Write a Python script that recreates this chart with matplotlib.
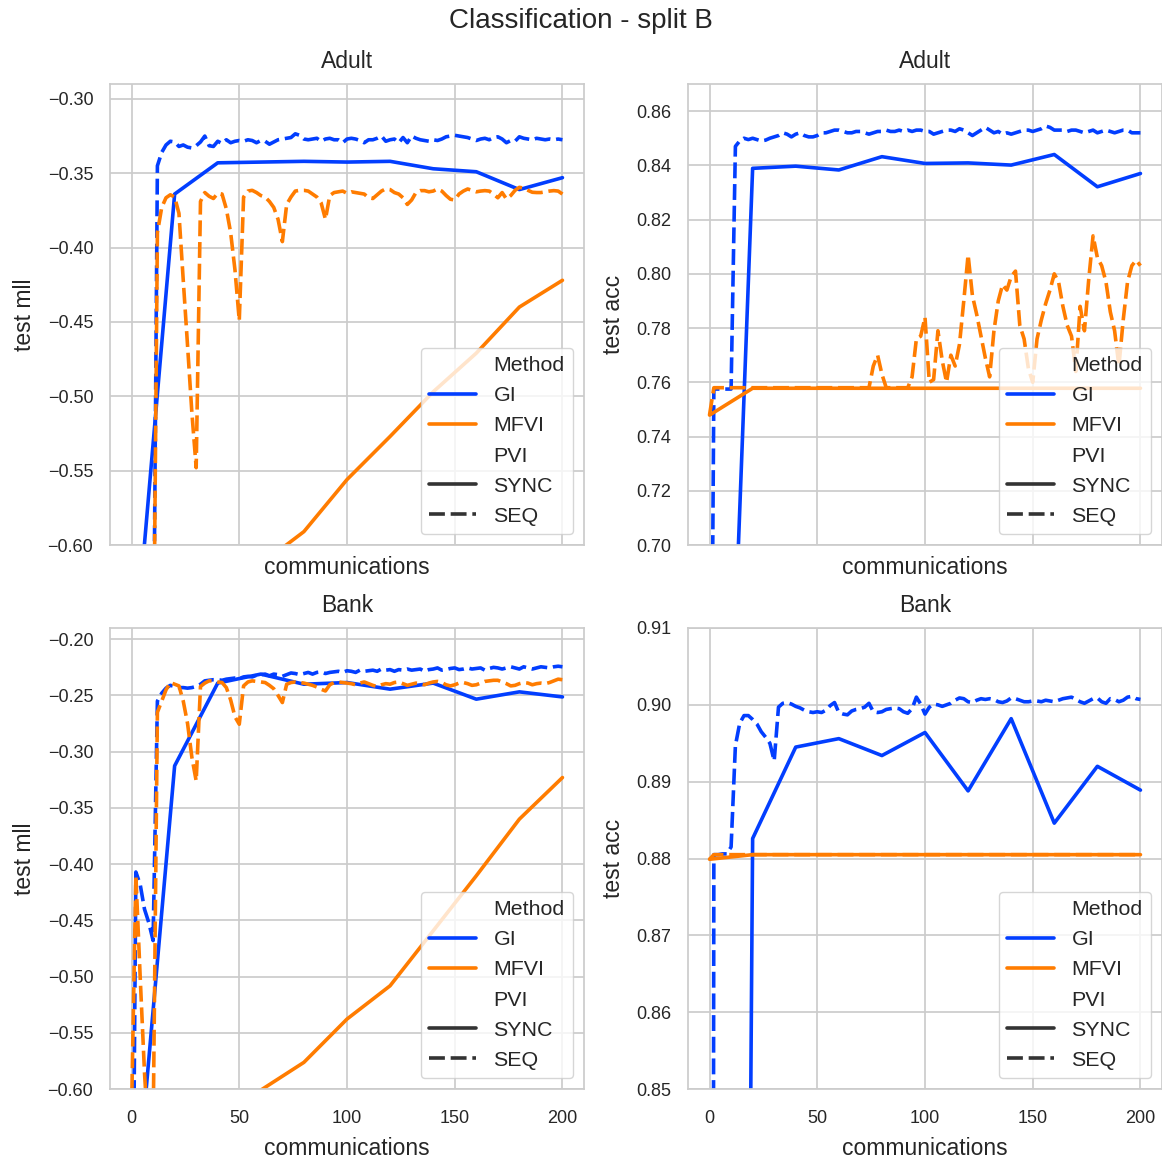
import numpy as np
import seaborn as sns
from matplotlib import pyplot as plt
from matplotlib.lines import Line2D
from matplotlib.ticker import FuncFormatter

sns.set_theme(style="whitegrid")
plt.rcParams['font.family'] = ['Liberation Sans', 'DejaVu Sans']

BLUE = '#023eff'
ORANGE = '#ff7c00'

# eje x: SYNC cada 20 comunicaciones, SEQ cada 2
x_sync = np.arange(0, 201, 20)
x_seq = np.arange(0, 201, 2)

# ---------------- Adult - test mll ----------------
adult_mll_gi_sync = [-0.700, -0.364, -0.343, -0.3425, -0.342, -0.3425, -0.342, -0.347, -0.349, -0.361, -0.353]
adult_mll_mfvi_sync = [-1.60, -1.00, -0.75, -0.613, -0.591, -0.556, -0.527, -0.497, -0.471, -0.440, -0.422]
adult_mll_gi_seq = [
    -0.80, -0.78, -0.76, -0.75, -0.74, -0.72, -0.345, -0.336, -0.331, -0.3285,
    -0.329, -0.332, -0.331, -0.3325, -0.333, -0.3315, -0.329, -0.325, -0.3315, -0.332,
    -0.3285, -0.330, -0.3275, -0.3295, -0.3285, -0.328, -0.3285, -0.3275, -0.328, -0.3295,
    -0.328, -0.3285, -0.3305, -0.329, -0.3275, -0.327, -0.3265, -0.326, -0.3235, -0.3245,
    -0.327, -0.3275, -0.327, -0.3265, -0.3285, -0.327, -0.3265, -0.3275, -0.3275, -0.3295,
    -0.327, -0.3265, -0.327, -0.328, -0.3295, -0.3275, -0.3275, -0.3265, -0.325, -0.3285,
    -0.3275, -0.327, -0.3295, -0.326, -0.3295, -0.325, -0.3265, -0.3275, -0.328, -0.3285,
    -0.3275, -0.328, -0.327, -0.3255, -0.325, -0.3245, -0.325, -0.3255, -0.326, -0.327,
    -0.328, -0.327, -0.3265, -0.3275, -0.326, -0.3255, -0.327, -0.3295, -0.328, -0.3285,
    -0.3255, -0.3265, -0.327, -0.3275, -0.3265, -0.327, -0.3275, -0.327, -0.3275, -0.327,
    -0.3275]
adult_mll_mfvi_seq = [
    -0.85, -0.80, -0.78, -0.76, -0.74, -0.72, -0.390, -0.373, -0.3665, -0.3645,
    -0.366, -0.377, -0.422, -0.466, -0.511, -0.548, -0.369, -0.363, -0.3655, -0.367,
    -0.3635, -0.364, -0.374, -0.390, -0.415, -0.449, -0.366, -0.362, -0.3615, -0.363,
    -0.365, -0.366, -0.369, -0.373, -0.381, -0.396, -0.371, -0.366, -0.362, -0.3615,
    -0.3615, -0.362, -0.364, -0.366, -0.370, -0.381, -0.365, -0.363, -0.3625, -0.362,
    -0.3635, -0.3625, -0.363, -0.3635, -0.364, -0.3665, -0.367, -0.3645, -0.362, -0.3605,
    -0.361, -0.363, -0.364, -0.3665, -0.371, -0.368, -0.363, -0.3617, -0.3617, -0.3625,
    -0.362, -0.3606, -0.362, -0.365, -0.3675, -0.368, -0.364, -0.362, -0.3606, -0.3615,
    -0.3625, -0.362, -0.3617, -0.362, -0.364, -0.3665, -0.363, -0.3673, -0.365, -0.3615,
    -0.3595, -0.360, -0.3615, -0.3628, -0.363, -0.363, -0.3625, -0.362, -0.3617, -0.362,
    -0.364]

# ---------------- Adult - test acc ----------------
adult_acc_gi_sync = [0.418, 0.8389, 0.8397, 0.8383, 0.8432, 0.8407, 0.8409, 0.8401, 0.8440, 0.8321, 0.8370]
adult_acc_mfvi_sync = [0.7479, 0.7578, 0.7578, 0.7578, 0.7578, 0.7578, 0.7578, 0.7578, 0.7578, 0.7578, 0.7578]
adult_acc_gi_seq = [0.53] + [0.7575] * 5 + [
    0.847, 0.849, 0.850, 0.8495, 0.850, 0.8495, 0.849, 0.8493, 0.850, 0.8505,
    0.851, 0.852, 0.8515, 0.8505, 0.8515, 0.852, 0.851, 0.8505, 0.8505, 0.851,
    0.852, 0.852, 0.8525, 0.853, 0.853, 0.8525, 0.852, 0.852, 0.8525, 0.8525,
    0.852, 0.8515, 0.852, 0.8525, 0.8525, 0.853, 0.8525, 0.8525, 0.853, 0.8525,
    0.853, 0.8525, 0.853, 0.853, 0.8525, 0.8525, 0.8515, 0.852, 0.8525, 0.853,
    0.853, 0.8525, 0.8535, 0.853, 0.852, 0.851, 0.852, 0.853, 0.854, 0.853,
    0.852, 0.8525, 0.8515, 0.852, 0.8515, 0.852, 0.8525, 0.853, 0.853, 0.8525,
    0.853, 0.8535, 0.8545, 0.854, 0.853, 0.853, 0.853, 0.8525, 0.853, 0.853,
    0.8525, 0.852, 0.8525, 0.853, 0.852, 0.8525, 0.853, 0.8525, 0.852, 0.8525,
    0.853, 0.853, 0.852, 0.852, 0.852]
adult_acc_mfvi_seq = [0.748] + [0.758] * 37 + [
    0.766, 0.770, 0.763, 0.758, 0.758, 0.758, 0.758, 0.758, 0.758, 0.762,
    0.776, 0.777, 0.784, 0.760, 0.761, 0.779, 0.768, 0.760, 0.770, 0.766,
    0.774, 0.790, 0.807, 0.792, 0.785, 0.777, 0.769, 0.762, 0.779, 0.790,
    0.796, 0.794, 0.799, 0.801, 0.781, 0.776, 0.765, 0.760, 0.776, 0.783,
    0.789, 0.794, 0.800, 0.797, 0.788, 0.781, 0.777, 0.764, 0.788, 0.779,
    0.798, 0.814, 0.806, 0.803, 0.797, 0.786, 0.779, 0.766, 0.783, 0.797,
    0.803, 0.805, 0.803]

# ---------------- Bank - test mll ----------------
bank_mll_gi_sync = [-0.748, -0.3126, -0.239, -0.231, -0.240, -0.2385, -0.2444, -0.239, -0.2533, -0.2468, -0.2513]
bank_mll_mfvi_sync = [-1.00, -0.80, -0.68, -0.601, -0.5763, -0.5378, -0.5082, -0.4593, -0.4104, -0.360, -0.323]
bank_mll_gi_seq = [
    -0.90, -0.407, -0.418, -0.440, -0.452, -0.468, -0.255, -0.248, -0.2435, -0.241,
    -0.242, -0.243, -0.243, -0.2435, -0.243, -0.242, -0.240, -0.237, -0.2365, -0.236,
    -0.236, -0.2365, -0.2355, -0.235, -0.2345, -0.235, -0.2335, -0.233, -0.2335, -0.232,
    -0.2315, -0.231, -0.2325, -0.231, -0.2315, -0.233, -0.2315, -0.230, -0.2305, -0.2315,
    -0.2305, -0.2295, -0.231, -0.2295, -0.229, -0.2305, -0.2295, -0.229, -0.2285, -0.2295,
    -0.228, -0.2285, -0.2295, -0.2275, -0.2285, -0.228, -0.2275, -0.2285, -0.2265, -0.2275,
    -0.227, -0.2285, -0.227, -0.2275, -0.2265, -0.2275, -0.227, -0.2265, -0.2285, -0.227,
    -0.2265, -0.2255, -0.2275, -0.227, -0.226, -0.2255, -0.227, -0.2265, -0.2255, -0.2265,
    -0.226, -0.2255, -0.2275, -0.226, -0.225, -0.2255, -0.2265, -0.2255, -0.2245, -0.2255,
    -0.2265, -0.2245, -0.2255, -0.2265, -0.2255, -0.2245, -0.225, -0.2255, -0.2245, -0.224,
    -0.2245]
bank_mll_mfvi_seq = [
    -0.62, -0.41, -0.50, -0.585, -0.65, -0.64, -0.265, -0.255, -0.245, -0.2385,
    -0.240, -0.2415, -0.255, -0.275, -0.305, -0.326, -0.242, -0.239, -0.237, -0.237,
    -0.238, -0.2385, -0.243, -0.254, -0.269, -0.2756, -0.2415, -0.238, -0.237, -0.2375,
    -0.238, -0.2385, -0.241, -0.244, -0.250, -0.2563, -0.240, -0.2385, -0.238, -0.2385,
    -0.239, -0.240, -0.241, -0.2425, -0.2445, -0.246, -0.2405, -0.2385, -0.238, -0.2385,
    -0.239, -0.2395, -0.2405, -0.239, -0.238, -0.2395, -0.241, -0.242, -0.2405, -0.2395,
    -0.240, -0.2385, -0.238, -0.2395, -0.241, -0.240, -0.239, -0.2395, -0.2405, -0.239,
    -0.238, -0.2375, -0.2385, -0.2405, -0.2415, -0.2405, -0.239, -0.2385, -0.2395, -0.241,
    -0.2405, -0.239, -0.2375, -0.237, -0.2365, -0.2365, -0.238, -0.2395, -0.2415, -0.241,
    -0.2395, -0.2385, -0.239, -0.2405, -0.2395, -0.239, -0.2395, -0.2385, -0.237, -0.2355,
    -0.236]

# ---------------- Bank - test acc ----------------
bank_acc_gi_sync = [0.12, 0.8826, 0.8945, 0.8956, 0.8934, 0.8964, 0.8888, 0.8982, 0.8846, 0.8920, 0.8889]
bank_acc_mfvi_sync = [0.8799, 0.8805, 0.8805, 0.8805, 0.8805, 0.8805, 0.8805, 0.8805, 0.8805, 0.8805, 0.8805]
bank_acc_gi_seq = [
    0.47, 0.8805, 0.8805, 0.8806, 0.8806, 0.8815, 0.8947, 0.8976, 0.8986, 0.8986,
    0.8981, 0.8975, 0.8965, 0.8958, 0.8950, 0.8927, 0.8997, 0.9002, 0.9003, 0.9001,
    0.8998, 0.8996, 0.8993, 0.8991, 0.8990, 0.8991, 0.8990, 0.8993, 0.8999, 0.9003,
    0.8990, 0.8988, 0.8987, 0.8992, 0.8994, 0.8995, 0.8997, 0.9002, 0.8991, 0.8990,
    0.8991, 0.8994, 0.8995, 0.8996, 0.8995, 0.8991, 0.8989, 0.8995, 0.9010, 0.9001,
    0.8988, 0.8997, 0.9001, 0.9000, 0.8998, 0.9000, 0.9002, 0.9006, 0.9009, 0.9008,
    0.9004, 0.9003, 0.9006, 0.9008, 0.9007, 0.9008, 0.9007, 0.9004, 0.9003, 0.9005,
    0.9009, 0.9008, 0.9006, 0.9004, 0.9004, 0.9005, 0.9005, 0.9004, 0.9006, 0.9005,
    0.9004, 0.9006, 0.9008, 0.9009, 0.9010, 0.9007, 0.9004, 0.9002, 0.9005, 0.9008,
    0.9009, 0.9004, 0.9002, 0.9008, 0.9007, 0.9004, 0.9006, 0.9010, 0.9011, 0.9008,
    0.9007]
bank_acc_mfvi_seq = [0.8799] + [0.8805] * 100

paneles = [
    ('Adult', 'test mll', adult_mll_gi_sync, adult_mll_gi_seq, adult_mll_mfvi_sync, adult_mll_mfvi_seq,
     (-0.60, -0.29), np.arange(-0.60, -0.299, 0.05)),
    ('Adult', 'test acc', adult_acc_gi_sync, adult_acc_gi_seq, adult_acc_mfvi_sync, adult_acc_mfvi_seq,
     (0.70, 0.87), np.arange(0.70, 0.861, 0.02)),
    ('Bank', 'test mll', bank_mll_gi_sync, bank_mll_gi_seq, bank_mll_mfvi_sync, bank_mll_mfvi_seq,
     (-0.60, -0.19), np.arange(-0.60, -0.199, 0.05)),
    ('Bank', 'test acc', bank_acc_gi_sync, bank_acc_gi_seq, bank_acc_mfvi_sync, bank_acc_mfvi_seq,
     (0.85, 0.91), np.arange(0.85, 0.911, 0.01)),
]

# posiciones de los ejes en pixeles (izq, arriba)
W, H = 1162, 1160
pos = [(110, 84), (688, 84), (110, 628), (688, 628)]
aw, ah = 474, 461

fig = plt.figure(figsize=(W / 100, H / 100), dpi=100)
LW = 2.6
DASH = (4.4, 1.6)
txt = '0.15'
fmt = FuncFormatter(lambda v, p: ('%.2f' % v).replace('-', '\u2212'))

for i, (titulo, ylab, gi_sync, gi_seq, mf_sync, mf_seq, ylim, yt) in enumerate(paneles):
    l, t = pos[i]
    ax = fig.add_axes([l / W, (H - t - ah) / H, aw / W, ah / H])
    ax.plot(x_sync, gi_sync, color=BLUE, lw=LW)
    ax.plot(x_seq, gi_seq, color=BLUE, lw=LW, dashes=DASH)
    ax.plot(x_sync, mf_sync, color=ORANGE, lw=LW)
    ax.plot(x_seq, mf_seq, color=ORANGE, lw=LW, dashes=DASH)

    ax.set_xlim(-10, 210)
    ax.set_xticks([0, 50, 100, 150, 200])
    ax.set_ylim(*ylim)
    ax.set_yticks(yt)
    ax.yaxis.set_major_formatter(fmt)
    ax.tick_params(labelsize=13, colors=txt, pad=6)
    ax.tick_params(axis='x', pad=9)
    ax.set_title(titulo, fontsize=16.5, color=txt, pad=11.5)
    ax.set_ylabel(ylab, fontsize=16.5, color=txt, labelpad=8)
    if i < 2:
        ax.tick_params(axis='x', labelbottom=False)
        ax.set_xlabel('communications', fontsize=16.5, color=txt, labelpad=8)
    else:
        ax.set_xlabel('communications', fontsize=16.5, color=txt, labelpad=7)
    for s in ax.spines.values():
        s.set_color('0.8')
        s.set_linewidth(1.25)
    ax.grid(color='0.8', lw=1.25)

    handles = [
        Line2D([], [], color='none', label='Method'),
        Line2D([], [], color=BLUE, lw=LW, label='GI'),
        Line2D([], [], color=ORANGE, lw=LW, label='MFVI'),
        Line2D([], [], color='none', label='PVI'),
        Line2D([], [], color='.2', lw=LW, label='SYNC'),
        Line2D([], [], color='.2', lw=LW, dashes=DASH, label='SEQ'),
    ]
    leg = ax.legend(handles=handles, loc='lower right', fontsize=15.4, labelspacing=0.52,
                    handlelength=2.2)
    for tx in leg.get_texts():
        tx.set_color(txt)

fig.suptitle('Classification - split B', fontsize=20, color=txt, y=1 - 28.5 / H, va='baseline')
fig.savefig('out.png', dpi=100)
